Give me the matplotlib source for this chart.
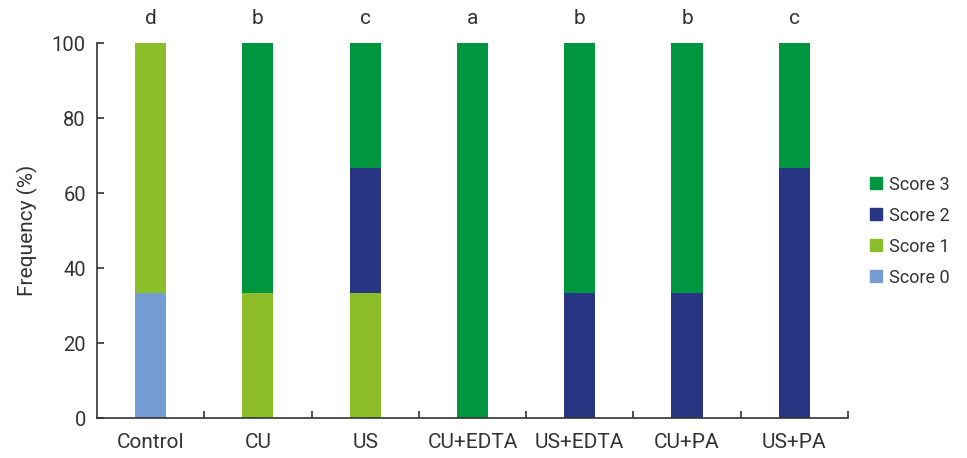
import matplotlib
matplotlib.use("Agg")
import matplotlib.pyplot as plt
from matplotlib.patches import Patch

plt.rcParams['font.family'] = ['Roboto', 'DejaVu Sans']

groups = ['Control', 'CU', 'US', 'CU+EDTA', 'US+EDTA', 'CU+PA', 'US+PA']
letters = ['d', 'b', 'c', 'a', 'b', 'b', 'c']
score0 = [33.3, 0, 0, 0, 0, 0, 0]
score1 = [66.7, 33.3, 33.3, 0, 0, 0, 0]
score2 = [0, 0, 33.3, 0, 33.3, 33.3, 66.7]
score3 = [0, 66.7, 33.4, 100, 66.7, 66.7, 33.3]

series = [('Score 0', score0, '#769dd3'),
          ('Score 1', score1, '#8bbe28'),
          ('Score 2', score2, '#283582'),
          ('Score 3', score3, '#009640')]

fig = plt.figure(figsize=(9.67, 4.58), dpi=100)
ax = fig.add_axes([0.1003, 0.0873, 0.7766, 0.8188])

x = range(len(groups))
bottom = [0.0] * len(groups)
for name, vals, color in series:
    ax.bar(x, vals, width=0.29, bottom=bottom, color=color, linewidth=0)
    bottom = [b + v for b, v in zip(bottom, vals)]

for i, letter in enumerate(letters):
    ax.text(i, 104, letter, ha='center', va='bottom', fontsize=15, color='#333333',
            clip_on=False)

ax.set_xlim(-0.5, len(groups) - 0.5)
ax.set_ylim(0, 100)
ax.set_yticks([0, 20, 40, 60, 80, 100])
ax.set_xticks([i + 0.5 for i in range(len(groups))])
ax.set_xticklabels([])
ax.set_xticks(list(x), minor=True)
ax.set_xticklabels(groups, minor=True)
ax.tick_params(axis='x', which='minor', length=0, pad=11, labelsize=15, labelcolor='#333333')
ax.tick_params(axis='x', which='major', direction='in', length=5, width=1.2, color='#333333')
ax.tick_params(axis='y', direction='in', length=5, width=1.2, color='#333333',
               labelsize=14.5, labelcolor='#333333', pad=8)
for side in ('top', 'right'):
    ax.spines[side].set_visible(False)
for side in ('left', 'bottom'):
    ax.spines[side].set_color('#333333')
    ax.spines[side].set_linewidth(1.2)
ax.set_ylabel('Frequency (%)', fontsize=15, color='#333333', labelpad=10)

handles = [Patch(color=c, label=n) for n, _, c in reversed(series)]
fig.legend(handles=handles, loc='center left', bbox_to_anchor=(0.892, 0.4956),
           frameon=False, fontsize=13, handlelength=0.66, handleheight=0.66,
           handletextpad=0.39, labelspacing=0.72, borderaxespad=0,
           labelcolor='#333333')

fig.savefig('out.png', dpi=100)
